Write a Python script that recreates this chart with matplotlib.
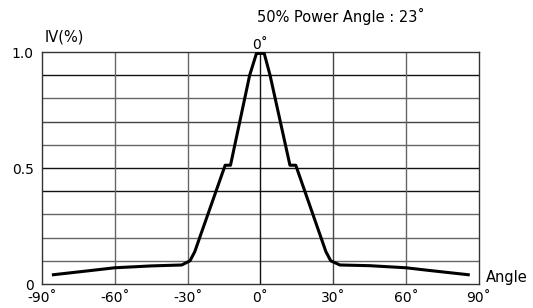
import numpy as np
import matplotlib
matplotlib.use('Agg')
import matplotlib.pyplot as plt

plt.rcParams['font.family'] = ['DejaVu Sans']

# radiation pattern
angles = [-85.3, -70, -60, -45, -32.4, -29, -27, -25, -14.5, -12.3,
          -4.4, -1.6, 1.6, 4.0, 12.2, 14.6, 25, 27, 29, 32.8,
          45, 60, 70, 85.7]
iv = [0.04, 0.058, 0.07, 0.078, 0.082, 0.1, 0.14, 0.2, 0.512, 0.512,
      0.9, 0.994, 0.994, 0.9, 0.512, 0.512, 0.2, 0.14, 0.1, 0.082,
      0.079, 0.07, 0.058, 0.04]

xticks = [-90, -60, -30, 0, 30, 60, 90]
xlabels = ['-90˚', '-60˚', '-30˚', '0˚', '30˚', '60˚', '90˚']
yticks = [0, 0.5, 1.0]
ylabels = ['0', '0.5', '1.0']
hgrid = [0.1, 0.2, 0.3, 0.4, 0.5, 0.6, 0.7, 0.8, 0.9]
hgrid_col = ['#666666', '#666666', '#666666', '#111111', '#111111',
             '#666666', '#444444', '#666666', '#111111']
vgrid = [-60, -30, 0, 30, 60]
vgrid_col = ['#666666', '#666666', '#111111', '#444444', '#666666']

fig = plt.figure(figsize=(5.33, 3.08), dpi=100)
ax = fig.add_axes([0.0788, 0.0779, 0.8193, 0.7532])

for v, c in zip(hgrid, hgrid_col):
    ax.axhline(v, color=c, linewidth=1, zorder=1)
for v, c in zip(vgrid, vgrid_col):
    ax.axvline(v, color=c, linewidth=1, zorder=1)

ax.plot(angles, iv, color='black', linewidth=2.2, solid_joinstyle='round', zorder=3)

ax.set_xlim(-90, 90)
ax.set_ylim(0, 1.0)
ax.set_xticks(xticks)
ax.set_xticklabels(xlabels, fontsize=10)
ax.set_yticks(yticks)
ax.set_yticklabels(ylabels, fontsize=10)
ax.tick_params(length=0, pad=5)
ax.tick_params(axis='y', pad=6)
for s in ax.spines.values():
    s.set_color('#333333')
    s.set_linewidth(1)

ax.text(0, 1.0, '0˚', transform=ax.get_xaxis_transform(), ha='center', va='bottom', fontsize=10)
ax.text(0.005, 1.066, 'IV(%)', transform=ax.transAxes, ha='left', va='center', fontsize=10.5)
ax.text(1.017, 0.03, 'Angle', transform=ax.transAxes, ha='left', va='center', fontsize=10.5)
ax.text(-1.3, 1.153, '50% Power Angle : 23˚', transform=ax.get_xaxis_transform(),
        ha='left', va='center', fontsize=10.5)

fig.savefig('out.png', dpi=100)
